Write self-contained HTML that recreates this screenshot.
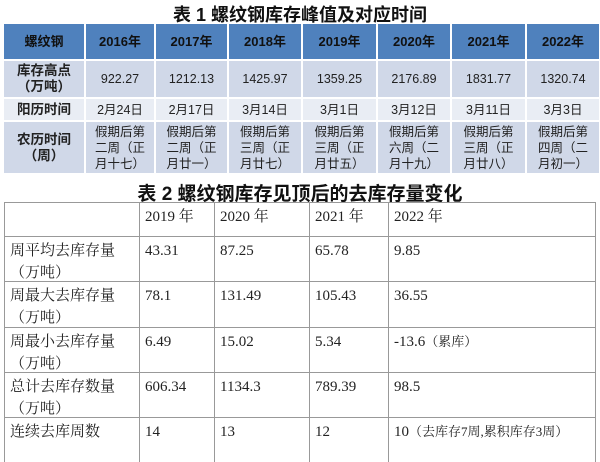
<!DOCTYPE html>
<html><head><meta charset="utf-8"><style>
*{margin:0;padding:0;box-sizing:border-box}
body{width:600px;height:451px;background:#fff;position:relative;overflow:hidden;font-family:"Liberation Sans","Noto Sans CJK SC",sans-serif}
.t{position:absolute;left:0;width:600px;text-align:center;font-weight:bold;color:#111}
.c{position:absolute;display:flex;align-items:center;justify-content:center;text-align:center;font-size:12.5px;line-height:16px;color:#222}
.h{background:#4F81BD;font-weight:bold;font-size:13px;color:#111}
.a{background:#D0D8E8}.b{background:#E9EDF4}
.f{font-weight:bold;font-size:13.5px}
.s{position:absolute;font-family:"Liberation Serif","Noto Serif CJK SC",serif;font-size:15px;line-height:22px;color:#222;padding:4px 0 0 6px}
.ln{position:absolute;background:#999}
</style></head><body>
<div class="t" style="top:1px;font-size:18px">表 1 螺纹钢库存峰值及对应时间</div>
<div id="t1"></div>
<div class="t" style="top:179px;font-size:19px">表 2 螺纹钢库存见顶后的去库存量变化</div>
<div id="t2"></div>
<script>
var xs=[3,85,155,228,302,377,451,526,600];
var ys=[23,60,98,121,174];
var rows=[["螺纹钢","2016年","2017年","2018年","2019年","2020年","2021年","2022年"],
["库存高点<br>（万吨）","922.27","1212.13","1425.97","1359.25","2176.89","1831.77","1320.74"],
["阳历时间","2月24日","2月17日","3月14日","3月1日","3月12日","3月11日","3月3日"],
["农历时间<br>（周）","假期后第<br>二周（正<br>月十七）","假期后第<br>二周（正<br>月廿一）","假期后第<br>三周（正<br>月廿七）","假期后第<br>三周（正<br>月廿五）","假期后第<br>六周（二<br>月十九）","假期后第<br>三周（正<br>月廿八）","假期后第<br>四周（二<br>月初一）"]];
var cls=["h","a","b","a"];var h="";
for(var r=0;r<4;r++)for(var c=0;c<8;c++){
h+='<div class="c '+cls[r]+(c==0&&r>0?' f':'')+'" style="left:'+(xs[c]+1)+'px;top:'+(ys[r]+1)+'px;width:'+(xs[c+1]-xs[c]-2)+'px;height:'+(ys[r+1]-ys[r]-2)+'px">'+rows[r][c]+'</div>';}
document.getElementById('t1').innerHTML=h;
var X=[4,139,214,309,388,595],Y=[202,236,281,327,372,417,460];
var d=[["","2019 年","2020 年","2021 年","2022 年"],
["周平均去库存量<br>（万吨）","43.31","87.25","65.78","9.85"],
["周最大去库存量<br>（万吨）","78.1","131.49","105.43","36.55"],
["周最小去库存量<br>（万吨）","6.49","15.02","5.34","-13.6<span style=\"font-size:13px\">（累库）</span>"],
["总计去库存数量<br>（万吨）","606.34","1134.3","789.39","98.5"],
["连续去库周数","14","13","12","10<span style=\"font-size:13px\">（去库存7周,累积库存3周）</span>"]];
h="";
for(var r=0;r<6;r++)for(var c=0;c<5;c++){
h+='<div class="s" style="left:'+X[c]+'px;top:'+Y[r]+'px;width:'+(X[c+1]-X[c])+'px">'+d[r][c]+'</div>';}
for(var i=0;i<X.length;i++)h+='<div class="ln" style="left:'+X[i]+'px;top:202px;width:1px;height:260px"></div>';
for(var i=0;i<Y.length-1;i++)h+='<div class="ln" style="left:4px;top:'+Y[i]+'px;width:592px;height:1px"></div>';
document.getElementById('t2').innerHTML=h;
</script>
</body></html>
